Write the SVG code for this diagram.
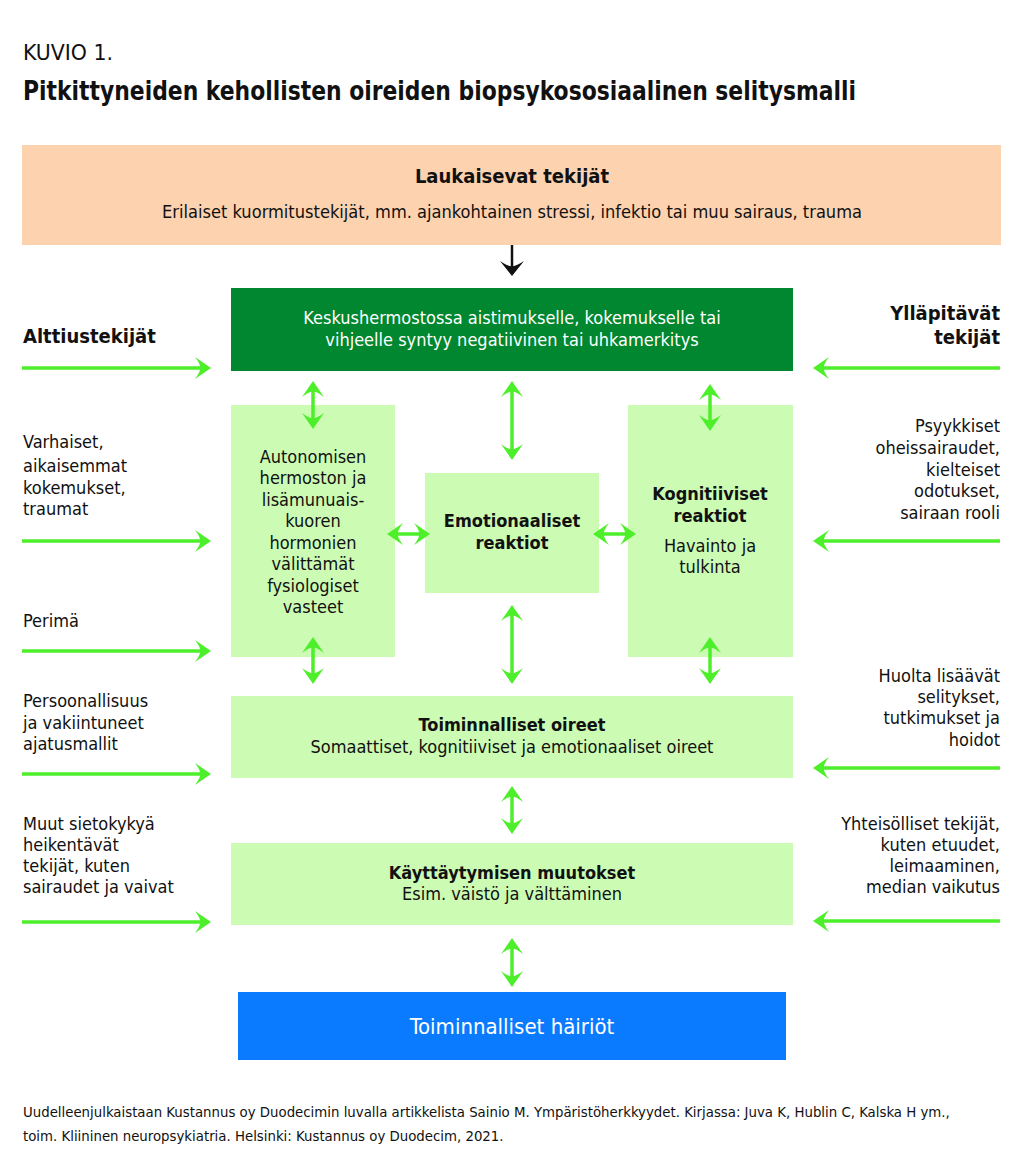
<svg xmlns="http://www.w3.org/2000/svg" width="1024" height="1176" viewBox="0 0 1024 1176">
<style>
text{font-family:"Liberation Sans Narrow","Arial Narrow","DejaVu Sans Condensed","Liberation Sans",sans-serif;fill:#111;}
.t{font-size:18px;}
.b{font-weight:bold;}
.c{text-anchor:middle;}
.r{text-anchor:end;}
.w{fill:#fff;}
.lg{fill:#CCFBB3;}
.ar{stroke:#4DEF2A;stroke-width:3.5;fill:none;}
</style>
<defs>
<marker id="ah" markerUnits="userSpaceOnUse" orient="auto-start-reverse" refX="-4" refY="0" markerWidth="30" markerHeight="30" overflow="visible">
<path d="M0,0 L-16,-11 Q-10,-3 -11,0 Q-10,3 -16,11 Z" fill="#4DEF2A"/>
</marker>
<marker id="bh" markerUnits="userSpaceOnUse" orient="auto" refX="-2" refY="0" markerWidth="30" markerHeight="30" overflow="visible">
<path d="M0,0 L-15,-12 Q-9,-3 -10,0 Q-9,3 -15,12 Z" fill="#111"/>
</marker>
</defs>
<rect width="1024" height="1176" fill="#fff"/>

<g id="header">
<text x="23" y="60" textLength="90" lengthAdjust="spacingAndGlyphs" style="font-size:22px">KUVIO 1.</text>
<text x="23" y="100" class="b" textLength="833" lengthAdjust="spacingAndGlyphs" style="font-size:27px">Pitkittyneiden kehollisten oireiden biopsykososiaalinen selitysmalli</text>
</g>

<g id="laukaisevat">
<rect x="22" y="145" width="979" height="100" fill="#FDD2AF"/>
<text x="512" y="183" class="b c" style="font-size:20px">Laukaisevat tekijät</text>
<text x="512" y="218" class="c" textLength="700" lengthAdjust="spacingAndGlyphs" style="font-size:17.5px">Erilaiset kuormitustekijät, mm. ajankohtainen stressi, infektio tai muu sairaus, trauma</text>
</g>

<g id="keskushermosto">
<rect x="231" y="288" width="562" height="83" fill="#00872F"/>
<text x="512" y="324" class="t c w">Keskushermostossa aistimukselle, kokemukselle tai</text>
<text x="512" y="346" class="t c w">vihjeelle syntyy negatiivinen tai uhkamerkitys</text>
</g>

<g id="autonomisen">
<rect x="231" y="405" width="164" height="252" class="lg"/>
<text class="t c"><tspan x="313" y="463">Autonomisen</tspan><tspan x="313" y="484">hermoston ja</tspan><tspan x="313" y="506">lisämunuais-</tspan><tspan x="313" y="527">kuoren</tspan><tspan x="313" y="549">hormonien</tspan><tspan x="313" y="570">välittämät</tspan><tspan x="313" y="592">fysiologiset</tspan><tspan x="313" y="613">vasteet</tspan></text>
</g>

<g id="emotionaaliset">
<rect x="425" y="473" width="174" height="120" class="lg"/>
<text class="t c b"><tspan x="512" y="527">Emotionaaliset</tspan><tspan x="512" y="549">reaktiot</tspan></text>
</g>

<g id="kognitiiviset">
<rect x="628" y="405" width="165" height="252" class="lg"/>
<text class="t c b"><tspan x="710" y="500">Kognitiiviset</tspan><tspan x="710" y="522">reaktiot</tspan></text>
<text class="t c"><tspan x="710" y="552">Havainto ja</tspan><tspan x="710" y="573">tulkinta</tspan></text>
</g>

<g id="toiminnalliset-oireet">
<rect x="231" y="696" width="562" height="82" class="lg"/>
<text x="512" y="731" class="t c b">Toiminnalliset oireet</text>
<text x="512" y="753" class="t c">Somaattiset, kognitiiviset ja emotionaaliset oireet</text>
</g>

<g id="kayttaytyminen">
<rect x="231" y="843" width="562" height="82" class="lg"/>
<text x="512" y="879" class="t c b">Käyttäytymisen muutokset</text>
<text x="512" y="900" class="t c">Esim. väistö ja välttäminen</text>
</g>

<g id="hairiot">
<rect x="238" y="992" width="548" height="68" fill="#0A7BFF"/>
<text x="512" y="1034" class="c w" style="font-size:22px;font-weight:500">Toiminnalliset häiriöt</text>
</g>

<g id="alttiustekijat">
<text x="23" y="343" class="b" style="font-size:20px">Alttiustekijät</text>
<text class="t"><tspan x="23" y="448">Varhaiset,</tspan><tspan x="23" y="472">aikaisemmat</tspan><tspan x="23" y="494">kokemukset,</tspan><tspan x="23" y="515">traumat</tspan></text>
<text x="23" y="627" class="t">Perimä</text>
<text class="t"><tspan x="23" y="707">Persoonallisuus</tspan><tspan x="23" y="729">ja vakiintuneet</tspan><tspan x="23" y="750">ajatusmallit</tspan></text>
<text class="t"><tspan x="23" y="830">Muut sietokykyä</tspan><tspan x="23" y="851">heikentävät</tspan><tspan x="23" y="872">tekijät, kuten</tspan><tspan x="23" y="893">sairaudet ja vaivat</tspan></text>
</g>

<g id="yllapitavat">
<text class="b r" style="font-size:20px"><tspan x="1000" y="320">Ylläpitävät</tspan><tspan x="1000" y="344">tekijät</tspan></text>
<text class="t r"><tspan x="1000" y="432">Psyykkiset</tspan><tspan x="1000" y="454">oheissairaudet,</tspan><tspan x="1000" y="476">kielteiset</tspan><tspan x="1000" y="497">odotukset,</tspan><tspan x="1000" y="519">sairaan rooli</tspan></text>
<text class="t r"><tspan x="1000" y="682">Huolta lisäävät</tspan><tspan x="1000" y="703">selitykset,</tspan><tspan x="1000" y="724">tutkimukset ja</tspan><tspan x="1000" y="746">hoidot</tspan></text>
<text class="t r"><tspan x="1000" y="830">Yhteisölliset tekijät,</tspan><tspan x="1000" y="851">kuten etuudet,</tspan><tspan x="1000" y="872">leimaaminen,</tspan><tspan x="1000" y="893">median vaikutus</tspan></text>
</g>

<g id="footnote">
<text style="font-size:14.8px"><tspan x="23" y="1117">Uudelleenjulkaistaan Kustannus oy Duodecimin luvalla artikkelista Sainio M. Ympäristöherkkyydet. Kirjassa: Juva K, Hublin C, Kalska H ym.,</tspan><tspan x="23" y="1141">toim. Kliininen neuropsykiatria. Helsinki: Kustannus oy Duodecim, 2021.</tspan></text>
</g>

<g id="connectors">
<line x1="512" y1="245" x2="512" y2="274" stroke="#111" stroke-width="2.5" marker-end="url(#bh)"/>
<g class="ar">
<line x1="22" y1="368" x2="207" y2="368" marker-end="url(#ah)"/>
<line x1="22" y1="541" x2="207" y2="541" marker-end="url(#ah)"/>
<line x1="22" y1="651" x2="207" y2="651" marker-end="url(#ah)"/>
<line x1="22" y1="774" x2="207" y2="774" marker-end="url(#ah)"/>
<line x1="22" y1="922" x2="207" y2="922" marker-end="url(#ah)"/>
<line x1="1000" y1="368" x2="817" y2="368" marker-end="url(#ah)"/>
<line x1="1000" y1="541" x2="817" y2="541" marker-end="url(#ah)"/>
<line x1="1000" y1="768" x2="817" y2="768" marker-end="url(#ah)"/>
<line x1="1000" y1="921" x2="817" y2="921" marker-end="url(#ah)"/>
<line x1="313" y1="385" x2="313" y2="425" marker-start="url(#ah)" marker-end="url(#ah)"/>
<line x1="512" y1="385" x2="512" y2="456" marker-start="url(#ah)" marker-end="url(#ah)"/>
<line x1="710" y1="388" x2="710" y2="427" marker-start="url(#ah)" marker-end="url(#ah)"/>
<line x1="313" y1="641" x2="313" y2="680" marker-start="url(#ah)" marker-end="url(#ah)"/>
<line x1="512" y1="609" x2="512" y2="680" marker-start="url(#ah)" marker-end="url(#ah)"/>
<line x1="710" y1="641" x2="710" y2="680" marker-start="url(#ah)" marker-end="url(#ah)"/>
<line x1="391" y1="534" x2="426" y2="534" marker-start="url(#ah)" marker-end="url(#ah)"/>
<line x1="597" y1="534" x2="632" y2="534" marker-start="url(#ah)" marker-end="url(#ah)"/>
<line x1="512" y1="790" x2="512" y2="830" marker-start="url(#ah)" marker-end="url(#ah)"/>
<line x1="512" y1="942" x2="512" y2="983" marker-start="url(#ah)" marker-end="url(#ah)"/>
</g>
</g>
</svg>
